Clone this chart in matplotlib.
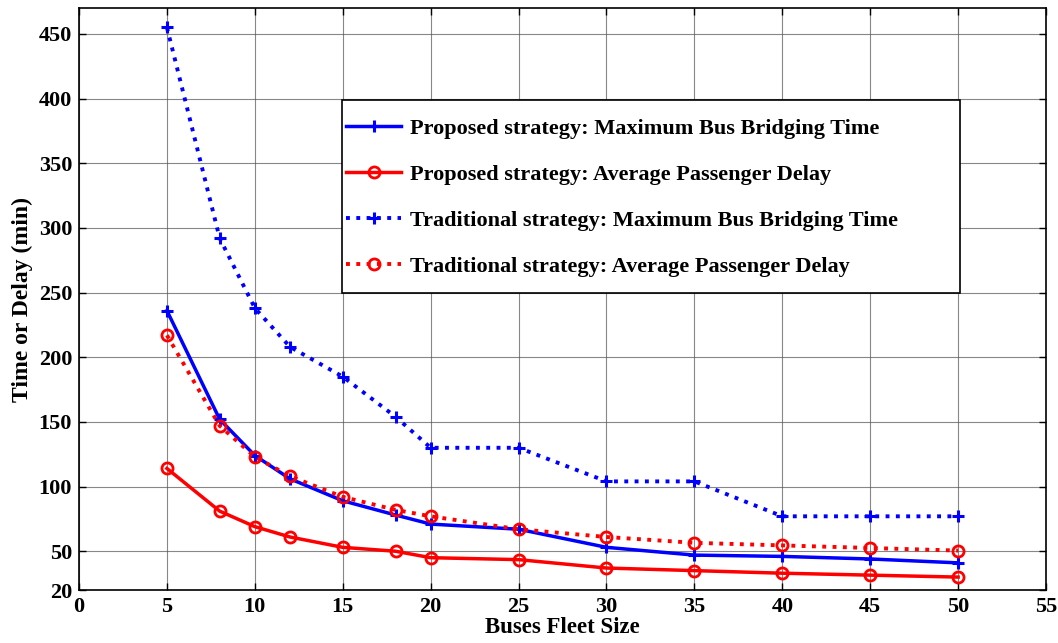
import matplotlib
matplotlib.use("Agg")
import matplotlib.pyplot as plt
from matplotlib.patches import Rectangle

fleet = [5, 8, 10, 12, 15, 18, 20, 25, 30, 35, 40, 45, 50]
prop_max = [236, 152, 124, 106, 89, 78, 71, 67, 53, 47, 46, 44, 41]
prop_avg = [114, 81, 69, 61, 53, 50, 45, 43.5, 37, 35, 33, 31.5, 30]
trad_max = [455, 292, 238, 208, 185, 154, 130, 130, 104, 104, 77, 77, 77]
trad_avg = [217, 147, 123, 108, 92, 82, 77, 67, 61, 56.5, 54.5, 52.5, 50.5]

labels = ["Proposed strategy: Maximum Bus Bridging Time",
          "Proposed strategy: Average Passenger Delay",
          "Traditional strategy: Maximum Bus Bridging Time",
          "Traditional strategy: Average Passenger Delay"]
xticks = list(range(0, 56, 5))
yticks = [20, 50, 100, 150, 200, 250, 300, 350, 400, 450]

plt.rcParams['font.family'] = ['Liberation Serif', 'DejaVu Serif']
plt.rcParams['font.weight'] = 'bold'

fig = plt.figure(figsize=(10.58, 6.43), dpi=100)
ax = fig.add_axes([0.0747, 0.0824, 0.914, 0.905])

ax.plot(fleet, prop_max, color='blue', ls='-', lw=2.5, marker='+', ms=9, mew=2.2, label=labels[0])
ax.plot(fleet, prop_avg, color='red', ls='-', lw=2.5, marker='o', ms=8, mew=2, mfc='none', label=labels[1])
ax.plot(fleet, trad_max, color='blue', ls=':', lw=2.8, marker='+', ms=9, mew=2.2, label=labels[2])
ax.plot(fleet, trad_avg, color='red', ls=':', lw=2.8, marker='o', ms=8, mew=2, mfc='none', label=labels[3])

ax.set_xlim(0, 55)
ax.set_ylim(20, 470)
ax.set_xticks(xticks)
ax.set_yticks(yticks)
ax.tick_params(direction='in', top=True, right=True, labelsize=16, length=5, width=1, pad=5)
for lab in ax.get_xticklabels() + ax.get_yticklabels():
    lab.set_fontweight('bold')
ax.grid(True, color='#555555', lw=0.8, alpha=0.7)
for s in ax.spines.values():
    s.set_linewidth(1.2)

ax.set_xlabel("Buses Fleet Size", fontsize=16.5, fontweight='bold', labelpad=0)
ax.set_ylabel("Time or Delay (min)", fontsize=17, fontweight='bold', labelpad=4)

# legend frame
frame = Rectangle((0.272, 0.510), 0.639, 0.332, transform=ax.transAxes,
                  facecolor='white', edgecolor='black', lw=1.2, zorder=4.5)
ax.add_patch(frame)
leg = ax.legend(loc='center left', bbox_to_anchor=(0.276, 0.6745),
                frameon=False, borderaxespad=0, borderpad=0,
                handlelength=2.5, handletextpad=0.4, labelspacing=1.15,
                prop={'weight': 'bold', 'size': 16})
leg.set_zorder(5)

fig.savefig("out.png", dpi=100)
